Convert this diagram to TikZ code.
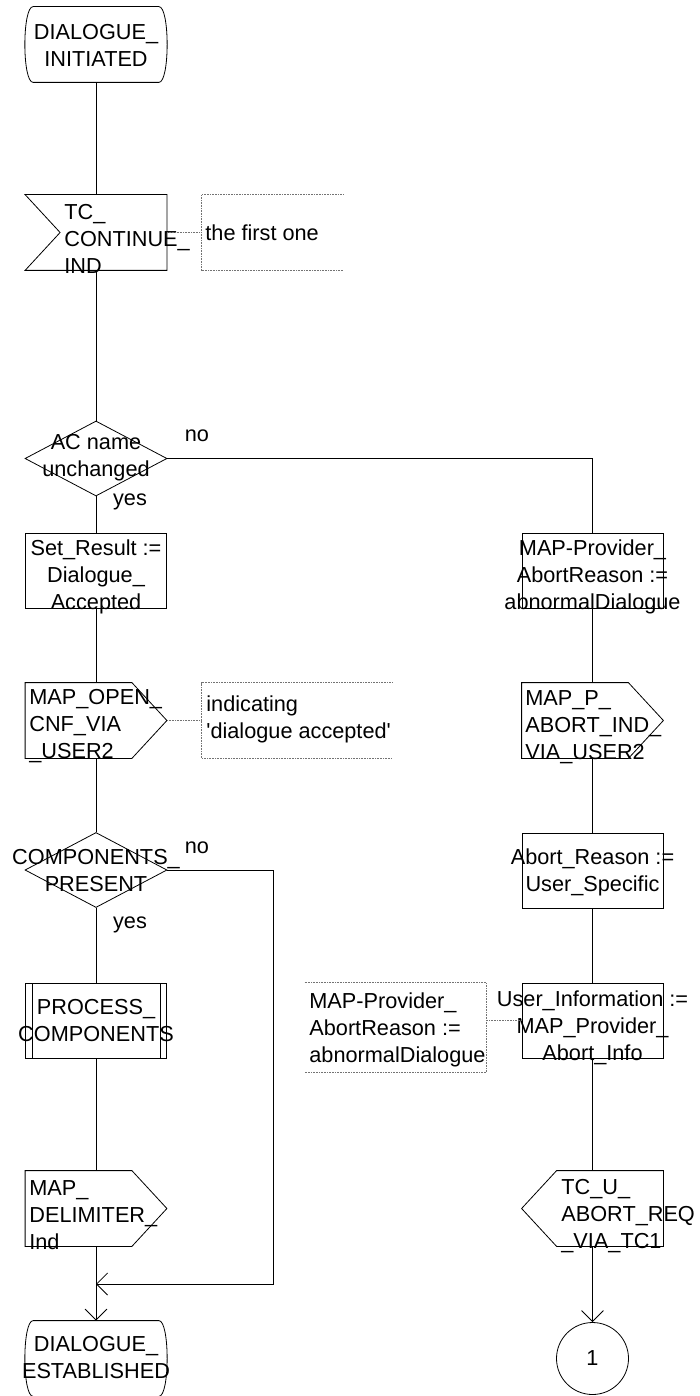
\documentclass[tikz,border=0pt]{standalone}
\usepackage{fontspec}
\setmainfont{Liberation Sans}
\usetikzlibrary{shapes.geometric,arrows.meta}

% SDL symbol outlines drawn round an empty node
\newcommand{\sdlstate}[1]{%
  \draw ([xshift=8pt]#1.north west) -- ([xshift=-8pt]#1.north east)
    .. controls ([xshift=3pt]#1.north east) and ([xshift=3pt]#1.south east) .. ([xshift=-8pt]#1.south east)
    -- ([xshift=8pt]#1.south west)
    .. controls ([xshift=-3pt]#1.south west) and ([xshift=-3pt]#1.north west) .. ([xshift=8pt]#1.north west);}
\newcommand{\sdlsend}[1]{%
  \draw (#1.north west) -- ([xshift=-35pt]#1.north east) -- (#1.east)
    -- ([xshift=-35pt]#1.south east) -- (#1.south west) -- cycle;}
\newcommand{\sdlsendleft}[1]{%
  \draw (#1.west) -- ([xshift=35pt]#1.north west) -- (#1.north east)
    -- (#1.south east) -- ([xshift=35pt]#1.south west) -- cycle;}
\newcommand{\sdlreceive}[1]{%
  \draw (#1.north west) -- (#1.north east) -- (#1.south east)
    -- (#1.south west) -- ([xshift=35pt]#1.west) -- cycle;}

\begin{document}
\begin{tikzpicture}[x=1pt,y=-1pt,line width=0.8pt,
    every node/.style={font=\fontsize{21.7}{27}\selectfont},
    sym/.style={minimum width=141pt,minimum height=75pt,inner sep=0pt},
    task/.style={sym,draw},
    query/.style={diamond,draw,minimum width=142pt,minimum height=75pt,inner sep=0pt},
    txt/.style={inner sep=0pt,align=center},
    ltxt/.style={inner sep=0pt,align=left,anchor=west},
    note/.style={black!55,densely dotted,line width=0.6pt},
    flow/.style={-{Straight Barb[length=11pt,width=22pt]}}]
    \useasboundingbox (0,0) rectangle (699,1396);

    %% Start state
    \node[sym] (init) at (96,44.5) {};
    \sdlstate{init}
    \node[txt] (init-t) at (96,45) {DIALOGUE\_\\INITIATED};

    %% TC_CONTINUE_IND
    \node[sym] (tcci) at (96,232.5) {};
    \sdlreceive{tcci}
    \node[ltxt] (tcci-t) at (64,239) {TC\_\\CONTINUE\_\\IND};
    \node[sym] (cmt1) at (272.5,232.5) {};
    \draw[note] (cmt1.north east) -- (cmt1.north west) -- (cmt1.south west) -- (cmt1.south east);
    \node[ltxt] (cmt1-t) at (205,233) {the first one};

    %% AC name decision
    \node[query] (acname) at (96,458.5) {};
    \node[txt] (acname-t) at (96,458) {AC name\\unchanged};
    \node[txt] (acname-no) at (197,436) {no};
    \node[txt] (acname-yes) at (130,502) {yes};

    %% yes branch
    \node[task] (setres) at (96,570.5) {};
    \node[txt] (setres-t) at (96,577) {Set\_Result :=\\Dialogue\_\\Accepted};
    \node[sym] (mapopen) at (96,720.5) {};
    \sdlsend{mapopen}
    \node[ltxt] (mapopen-t) at (29,726) {MAP\_OPEN\_\\CNF\_VIA\\\_USER2};
    \node[sym,minimum width=190pt] (cmt2) at (297,720.5) {};
    \draw[note] (cmt2.north east) -- (cmt2.north west) -- (cmt2.south west) -- (cmt2.south east);
    \node[ltxt] (cmt2-t) at (206,719) {indicating\\\textquotesingle dialogue accepted\textquotesingle};

    \node[query] (comppres) at (96,870) {};
    \node[txt] (comppres-t) at (96,870.5) {COMPONENTS\_\\PRESENT};
    \node[txt] (comppres-no) at (197,848) {no};
    \node[txt] (comppres-yes) at (130,925) {yes};

    \node[task] (proccomp) at (96,1021) {};
    \draw ([xshift=7pt]proccomp.north west) -- ([xshift=7pt]proccomp.south west)
          ([xshift=-7pt]proccomp.north east) -- ([xshift=-7pt]proccomp.south east);
    \node[txt] (proccomp-t) at (96,1021) {PROCESS\_\\COMPONENTS};

    \node[sym] (mapdelim) at (96,1208.5) {};
    \sdlsend{mapdelim}
    \node[ltxt] (mapdelim-t) at (29,1215) {MAP\_\\DELIMITER\_\\Ind};

    \node[sym] (estab) at (96,1358.5) {};
    \sdlstate{estab}
    \node[txt] (estab-t) at (96,1358) {DIALOGUE\_\\ESTABLISHED};

    %% no branch
    \node[task] (mpar) at (592.5,570.5) {};
    \node[txt] (mpar-t) at (592.5,577) {MAP-Provider\_\\AbortReason :=\\abnormalDialogue};
    \node[sym] (mappab) at (592.5,720.5) {};
    \sdlsend{mappab}
    \node[ltxt] (mappab-t) at (525,727) {MAP\_P\_\\ABORT\_IND\_\\VIA\_USER2};
    \node[task] (abreason) at (592.5,870.5) {};
    \node[txt] (abreason-t) at (592.5,872) {Abort\_Reason :=\\User\_Specific};
    \node[task] (userinfo) at (592.5,1020.5) {};
    \node[txt] (userinfo-t) at (592.5,1028) {User\_Information :=\\MAP\_Provider\_\\Abort\_Info};
    \node[sym,minimum width=181pt,minimum height=89pt] (cmt3) at (395.5,1027.5) {};
    \draw[note] (cmt3.north west) -- (cmt3.north east) -- (cmt3.south east) -- (cmt3.south west);
    \node[ltxt] (cmt3-t) at (309,1030) {MAP-Provider\_\\AbortReason :=\\abnormalDialogue};
    \node[sym] (tcuab) at (592.5,1208.5) {};
    \sdlsendleft{tcuab}
    \node[ltxt] (tcuab-t) at (561,1216) {TC\_U\_\\ABORT\_REQ\\\_VIA\_TC1};
    \node[circle,draw,minimum size=72pt,inner sep=0pt] (conn1) at (592.5,1358.5) {1};

    %% connectors
    \draw (init) -- (tcci);
    \draw[note] (tcci.east) -- (cmt1.west);
    \draw (tcci) -- (acname);
    \draw (acname) -- (setres);
    \draw (acname.east) -| (mpar);
    \draw (setres) -- (mapopen);
    \draw[note] (mapopen.east) -- (cmt2.west);
    \draw (mapopen) -- (comppres);
    \draw (comppres) -- (proccomp);
    \draw (proccomp) -- (mapdelim);
    \draw[flow] (mapdelim) -- (estab);
    \coordinate (nobend) at (273,1284);
    \coordinate (merge) at (96,1284);
    \draw[flow] (comppres.east) -| (nobend) -- (merge);
    \draw (mpar) -- (mappab);
    \draw (mappab) -- (abreason);
    \draw (abreason) -- (userinfo);
    \draw[note] (userinfo.west) -- (userinfo.west -| cmt3.east);
    \draw (userinfo) -- (tcuab);
    \draw[flow] (tcuab) -- (conn1);
\end{tikzpicture}
\end{document}
